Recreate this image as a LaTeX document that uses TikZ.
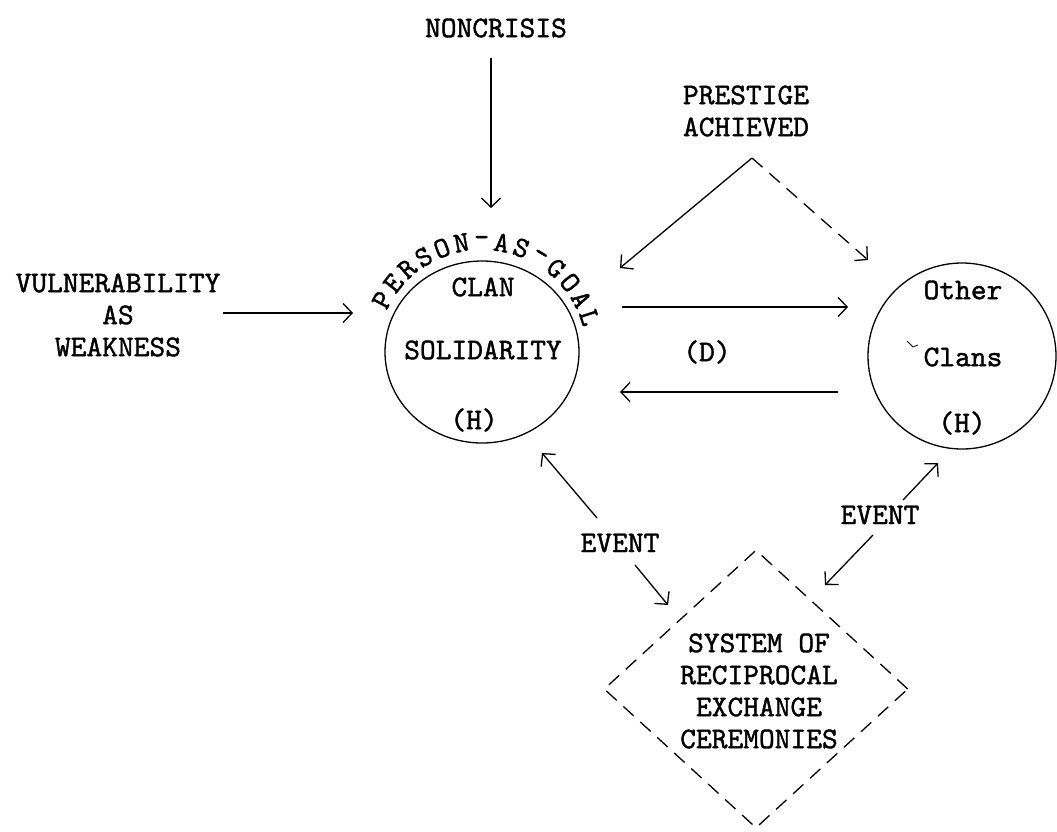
\documentclass[tikz,border=0pt]{standalone}
\usepackage{fontspec}
\setmonofont{lmmono10-regular.otf}[FakeBold=1.3]
\usetikzlibrary{arrows.meta,shapes.geometric}
\begin{document}
\begin{tikzpicture}[x=1pt,y=-1pt,
  every node/.style={font=\ttfamily\fontsize{30}{32}\selectfont, inner sep=0pt},
  lbl/.style={align=center},
  conn/.style={line width=1.3pt, -{Straight Barb[length=9pt,width=19pt,line width=1.3pt]}},
  dconn/.style={conn, dash pattern=on 14pt off 9pt},
  ring/.style={draw, line width=1.3pt, shape=ellipse, inner sep=0pt},
  letter/.style={font=\ttfamily\fontsize{29}{29}\selectfont, inner sep=0pt}]
\path[use as bounding box] (0,0) rectangle (1057,832);

% top and side labels
\node[lbl] (nc) at (496,28) {NONCRISIS};
\node[lbl] (pa) at (746,111) {PRESTIGE\\ACHIEVED};
\node[lbl] (vu) at (118,315) {VULNERABILITY\\AS\\WEAKNESS};

% circles
\node[ring, minimum width=194pt, minimum height=182pt] (lc) at (482,352) {};
\node[ring, minimum width=188pt, minimum height=186pt] (rc) at (962,356) {};

\node (lc1) at (483,287) {CLAN};
\node (lc2) at (483,350) {SOLIDARITY};
\node (lc3) at (474,420) {(H)};
\node (rc1) at (963,290) {Other};
\node (rc2) at (963,357) {Clans};
\node (rc3) at (962,423) {(H)};
\draw[line width=0.8pt] (907,341) -- (913,347) -- (918,345);

% curved label
\foreach \c [count=\i from 0] in {P,E,R,S,O,N,-,A,S,-,G,O,A,L}{
  \pgfmathsetmacro{\a}{152-\i*10.3}
  \pgfmathsetmacro{\px}{482+113*cos(\a)}
  \pgfmathsetmacro{\py}{352-111*sin(\a)}
  \node[letter, rotate=\a-90] (pg\i) at (\px,\py) {\c};
}

\node (dd) at (707,352) {(D)};

% diamond
\node[draw, dash pattern=on 14pt off 9pt, line width=1.3pt, shape=diamond,
      minimum width=304pt, minimum height=278pt, inner sep=0pt] (sys) at (756,689) {};
\node[lbl] (syst) at (759,691) {SYSTEM OF\\RECIPROCAL\\EXCHANGE\\CEREMONIES};

\node (ev1) at (620,543) {EVENT};
\node (ev2) at (880,515) {EVENT};

% connector end points
\coordinate (ncs) at (491,58);
\coordinate (nce) at (491,208);
\coordinate (pv) at (752,158);
\coordinate (pvl) at (620,268);
\coordinate (pvr) at (868,260);
\coordinate (vus) at (223,313);
\coordinate (vue) at (353,313);
\coordinate (h1s) at (622,307);
\coordinate (h1e) at (848,307);
\coordinate (h2s) at (838,392);
\coordinate (h2e) at (620,392);
\coordinate (e1a) at (597,518);
\coordinate (e1b) at (542,453);
\coordinate (e1c) at (635,565);
\coordinate (e1d) at (668,605);
\coordinate (e2a) at (903,500);
\coordinate (e2b) at (938,463);
\coordinate (e2c) at (873,535);
\coordinate (e2d) at (825,585);

\draw[conn] (ncs) -- (nce);
\draw[conn] (pv) -- (pvl);
\draw[dconn] (pv) -- (pvr);
\draw[conn] (vus) -- (vue);
\draw[conn] (h1s) -- (h1e);
\draw[conn] (h2s) -- (h2e);
\draw[conn] (e1a) -- (e1b);
\draw[conn] (e1c) -- (e1d);
\draw[conn] (e2a) -- (e2b);
\draw[conn] (e2c) -- (e2d);
\end{tikzpicture}
\end{document}
